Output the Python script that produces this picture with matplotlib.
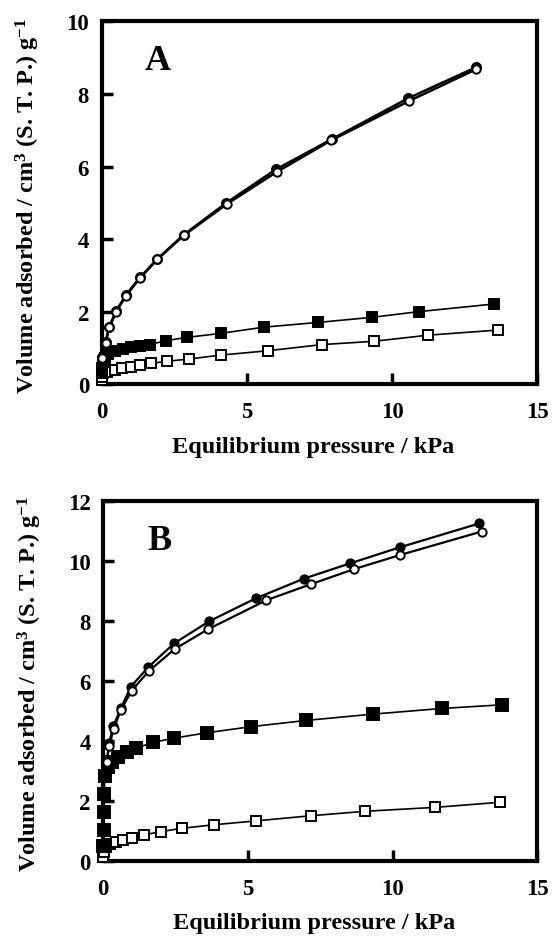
import matplotlib
matplotlib.use("Agg")
import matplotlib.pyplot as plt

plt.rcParams['font.family'] = ['Liberation Serif', 'DejaVu Serif']
plt.rcParams['font.weight'] = 'bold'
plt.rcParams['mathtext.fontset'] = 'custom'
plt.rcParams['mathtext.rm'] = 'Liberation Serif:bold'
plt.rcParams['mathtext.bf'] = 'Liberation Serif:bold'
plt.rcParams['mathtext.it'] = 'Liberation Serif:bold'

# panel A
a_circ_fill_x = [0.03, 0.14, 0.26, 0.51, 0.83, 1.32, 1.92, 2.83, 4.30, 6.00, 7.92, 10.55, 12.90]
a_circ_fill_y = [0.74, 1.15, 1.58, 2.02, 2.45, 2.94, 3.45, 4.12, 5.00, 5.92, 6.75, 7.88, 8.74]
a_circ_open_x = [0.03, 0.14, 0.26, 0.51, 0.83, 1.32, 1.92, 2.83, 4.32, 6.03, 7.90, 10.57, 12.89]
a_circ_open_y = [0.72, 1.13, 1.57, 2.00, 2.43, 2.92, 3.44, 4.10, 4.97, 5.85, 6.72, 7.80, 8.68]
a_sq_fill_x = [0.0, 0.02, 0.06, 0.13, 0.23, 0.46, 0.74, 1.03, 1.32, 1.66, 2.23, 2.95, 4.12, 5.58, 7.44, 9.30, 10.94, 13.52]
a_sq_fill_y = [0.30, 0.45, 0.60, 0.72, 0.83, 0.92, 0.97, 1.01, 1.06, 1.09, 1.20, 1.29, 1.40, 1.57, 1.70, 1.84, 2.00, 2.21]
a_sq_open_x = [0.0, 0.02, 0.05, 0.20, 0.46, 0.72, 1.00, 1.32, 1.71, 2.26, 3.00, 4.10, 5.73, 7.59, 9.37, 11.25, 13.65]
a_sq_open_y = [0.10, 0.20, 0.30, 0.34, 0.39, 0.44, 0.48, 0.53, 0.57, 0.63, 0.69, 0.80, 0.92, 1.09, 1.18, 1.35, 1.49]

# panel B
b_circ_fill_x = [0.12, 0.21, 0.35, 0.61, 0.96, 1.55, 2.45, 3.65, 5.27, 6.94, 8.54, 10.24, 13.0]
b_circ_fill_y = [3.35, 3.95, 4.50, 5.10, 5.82, 6.46, 7.26, 7.99, 8.76, 9.42, 9.93, 10.46, 11.26]
b_circ_open_x = [0.12, 0.21, 0.36, 0.61, 0.98, 1.58, 2.47, 3.62, 5.64, 7.17, 8.65, 10.27, 13.08]
b_circ_open_y = [3.30, 3.84, 4.42, 5.03, 5.68, 6.34, 7.07, 7.73, 8.70, 9.23, 9.73, 10.21, 10.99]
b_sq_fill_x = [0.0, 0.03, 0.03, 0.03, 0.06, 0.15, 0.29, 0.52, 0.81, 1.13, 1.73, 2.45, 3.60, 5.10, 7.02, 9.32, 11.72, 13.77]
b_sq_fill_y = [0.50, 1.04, 1.62, 2.23, 2.84, 3.12, 3.29, 3.46, 3.62, 3.76, 3.96, 4.10, 4.28, 4.48, 4.69, 4.90, 5.09, 5.21]
b_sq_open_x = [0.0, 0.03, 0.09, 0.23, 0.43, 0.69, 1.01, 1.40, 1.98, 2.71, 3.82, 5.29, 7.17, 9.06, 11.47, 13.72]
b_sq_open_y = [0.12, 0.29, 0.46, 0.57, 0.62, 0.70, 0.78, 0.87, 0.98, 1.09, 1.21, 1.34, 1.51, 1.66, 1.79, 1.96]

xlabel = 'Equilibrium pressure / kPa'
ylabel = r'Volume adsorbed / cm$^{3}$ (S. T. P.) g$^{-1}$'

fig = plt.figure(figsize=(5.55, 9.37), dpi=100)
axA = fig.add_axes([0.183, 0.589, 0.785, 0.387])
axB = fig.add_axes([0.186, 0.080, 0.782, 0.384])


def style(ax, ymax, letter):
    ax.set_xlim(0, 15)
    ax.set_ylim(0, ymax)
    ax.set_xticks([0, 5, 10, 15])
    ax.set_yticks(range(0, ymax + 1, 2))
    for s in ax.spines.values():
        s.set_linewidth(3)
    ax.tick_params(direction='in', length=8, width=2.5, labelsize=16.5,
                   top=False, right=False)
    ax.tick_params(axis='x', pad=12)
    ax.tick_params(axis='y', pad=9)
    ax.set_xlabel(xlabel, fontsize=17.5, fontweight='bold')
    ax.set_ylabel(ylabel, fontsize=17.5, fontweight='bold')
    ax.xaxis.set_label_coords(0.485, -0.171)
    ax.xaxis.label.set_va('center')
    ax.yaxis.set_label_coords(-0.169, 0.495)
    ax.yaxis.label.set_va('center')
    ax.text(0.129, 0.892, letter, transform=ax.transAxes, fontsize=26,
            fontweight='bold', ha='center', va='center')


def series(ax, x, y, marker, filled, ms, lw):
    ax.plot(x, y, '-', color='k', lw=lw, marker=marker, ms=ms,
            mfc='k' if filled else 'white', mec='k', mew=1.4, clip_on=False, zorder=3)


series(axA, a_sq_open_x, a_sq_open_y, 's', False, 7.5, 1.2)
series(axA, a_sq_fill_x, a_sq_fill_y, 's', True, 7.5, 1.2)
series(axA, a_circ_fill_x, a_circ_fill_y, 'o', True, 6.5, 1.8)
series(axA, a_circ_open_x, a_circ_open_y, 'o', False, 6.0, 1.8)
style(axA, 10, 'A')

series(axB, b_sq_open_x, b_sq_open_y, 's', False, 7.5, 1.2)
series(axB, b_sq_fill_x, b_sq_fill_y, 's', True, 8.0, 1.2)
series(axB, b_circ_fill_x, b_circ_fill_y, 'o', True, 6.0, 1.6)
series(axB, b_circ_open_x, b_circ_open_y, 'o', False, 6.0, 1.6)
style(axB, 12, 'B')

fig.savefig('out.png', dpi=100)
